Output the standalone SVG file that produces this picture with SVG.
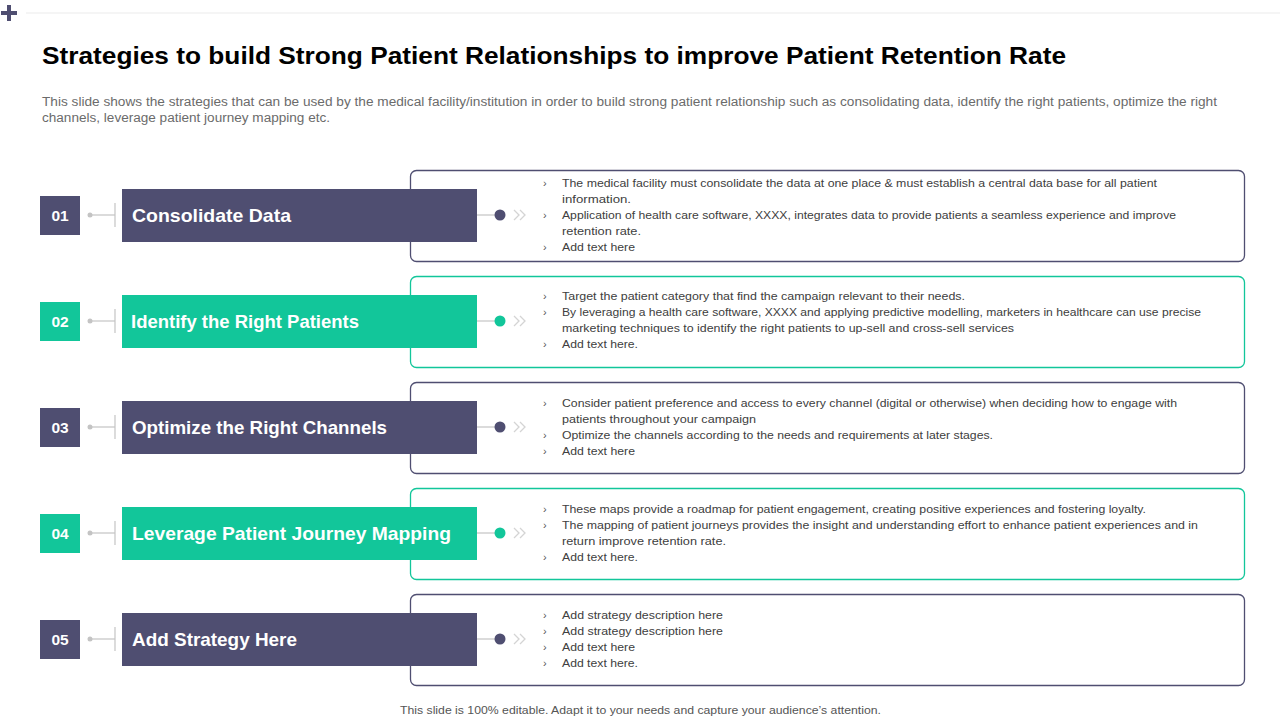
<svg xmlns="http://www.w3.org/2000/svg" width="1280" height="720" viewBox="0 0 1280 720">
<style>
.title{font-family:"Liberation Sans",Arial,sans-serif;font-weight:bold;font-size:24px;fill:#000}
.sub{font-family:"Liberation Sans",Arial,sans-serif;font-size:12.5px;fill:#6b6b6b}
.num{font-family:"Liberation Sans",Arial,sans-serif;font-weight:bold;font-size:15.5px;fill:#fff;text-anchor:middle}
.lbl{font-family:"Liberation Sans",Arial,sans-serif;font-weight:bold;font-size:19px;fill:#fff}
.body{font-family:"Liberation Sans",Arial,sans-serif;font-size:11px;fill:#404040}
.bul{font-family:"Liberation Sans",Arial,sans-serif;font-size:11px;fill:#555}
.foot{font-family:"Liberation Sans",Arial,sans-serif;font-size:11.5px;fill:#555}
.dk{fill:#4f4e71}
.tl{fill:#12c69a}
.boxdk{fill:#fff;stroke:#4f4e71;stroke-width:1.3}
.boxtl{fill:#fff;stroke:#12c69a;stroke-width:1.3}
.gline{stroke:#c4c4c4;stroke-width:1.2;fill:none}
.chev{stroke:#d4d4d4;stroke-width:1.3;fill:none}
</style>
<defs>
<g id="chevs"><polyline class="chev" points="0,-5 5,0 0,5"/><polyline class="chev" points="6,-5 11,0 6,5"/></g>
</defs>

<rect x="1" y="11" width="16" height="4" fill="#4f4e71"/>
<rect x="7" y="5" width="4" height="16" fill="#4f4e71"/>
<line x1="26" y1="13" x2="1280" y2="13" stroke="#ebebeb" stroke-width="1"/>

<text class="title" x="42" y="64" textLength="1024" lengthAdjust="spacingAndGlyphs">Strategies to build Strong Patient Relationships to improve Patient Retention Rate</text>
<text class="sub" x="42" y="106" textLength="1175" lengthAdjust="spacingAndGlyphs">This slide shows the strategies that can be used by the medical facility/institution in order to build strong patient relationship such as consolidating data, identify the right patients, optimize the right</text>
<text class="sub" x="42" y="122" textLength="288" lengthAdjust="spacingAndGlyphs">channels, leverage patient journey mapping etc.</text>

<!-- description boxes -->
<g id="desc1">
<rect class="boxdk" x="410.5" y="170.5" width="834" height="91" rx="6"/>
<text class="bul" x="543" y="187">›</text><text class="body" x="562" y="187" textLength="595" lengthAdjust="spacingAndGlyphs">The medical facility must consolidate the data at one place &amp; must establish a central data base for all patient</text>
<text class="body" x="562" y="203" textLength="69" lengthAdjust="spacingAndGlyphs">information.</text>
<text class="bul" x="543" y="219">›</text><text class="body" x="562" y="219" textLength="614" lengthAdjust="spacingAndGlyphs">Application of health care software, XXXX, integrates data to provide patients a seamless experience and improve</text>
<text class="body" x="562" y="235" textLength="79" lengthAdjust="spacingAndGlyphs">retention rate.</text>
<text class="bul" x="543" y="251">›</text><text class="body" x="562" y="251" textLength="73" lengthAdjust="spacingAndGlyphs">Add text here</text>
</g>
<g id="desc2">
<rect class="boxtl" x="410.5" y="276.5" width="834" height="91" rx="6"/>
<text class="bul" x="543" y="300">›</text><text class="body" x="562" y="300" textLength="403" lengthAdjust="spacingAndGlyphs">Target the patient category that find the campaign relevant to their needs.</text>
<text class="bul" x="543" y="316">›</text><text class="body" x="562" y="316" textLength="639" lengthAdjust="spacingAndGlyphs">By leveraging a health care software, XXXX and applying predictive modelling, marketers in healthcare can use precise</text>
<text class="body" x="562" y="332" textLength="452" lengthAdjust="spacingAndGlyphs">marketing techniques to identify the  right patients to up-sell and cross-sell services</text>
<text class="bul" x="543" y="348">›</text><text class="body" x="562" y="348" textLength="76" lengthAdjust="spacingAndGlyphs">Add text here.</text>
</g>
<g id="desc3">
<rect class="boxdk" x="410.5" y="382.5" width="834" height="91" rx="6"/>
<text class="bul" x="543" y="407">›</text><text class="body" x="562" y="407" textLength="615" lengthAdjust="spacingAndGlyphs">Consider patient preference and access to every channel (digital or otherwise) when deciding how to engage  with</text>
<text class="body" x="562" y="423" textLength="194" lengthAdjust="spacingAndGlyphs">patients throughout your campaign</text>
<text class="bul" x="543" y="439">›</text><text class="body" x="562" y="439" textLength="431" lengthAdjust="spacingAndGlyphs">Optimize the channels according to the needs and requirements at later stages.</text>
<text class="bul" x="543" y="455">›</text><text class="body" x="562" y="455" textLength="73" lengthAdjust="spacingAndGlyphs">Add text here</text>
</g>
<g id="desc4">
<rect class="boxtl" x="410.5" y="488.5" width="834" height="91" rx="6"/>
<text class="bul" x="543" y="513">›</text><text class="body" x="562" y="513" textLength="584" lengthAdjust="spacingAndGlyphs">These maps provide a roadmap for patient engagement,  creating positive experiences and fostering loyalty.</text>
<text class="bul" x="543" y="529">›</text><text class="body" x="562" y="529" textLength="636" lengthAdjust="spacingAndGlyphs">The mapping of patient journeys provides the  insight and understanding effort to enhance patient experiences and in</text>
<text class="body" x="562" y="545" textLength="164" lengthAdjust="spacingAndGlyphs">return improve retention rate.</text>
<text class="bul" x="543" y="561">›</text><text class="body" x="562" y="561" textLength="76" lengthAdjust="spacingAndGlyphs">Add text here.</text>
</g>
<g id="desc5">
<rect class="boxdk" x="410.5" y="594.5" width="834" height="91" rx="6"/>
<text class="bul" x="543" y="619">›</text><text class="body" x="562" y="619" textLength="161" lengthAdjust="spacingAndGlyphs">Add strategy description here</text>
<text class="bul" x="543" y="635">›</text><text class="body" x="562" y="635" textLength="161" lengthAdjust="spacingAndGlyphs">Add strategy description here</text>
<text class="bul" x="543" y="651">›</text><text class="body" x="562" y="651" textLength="73" lengthAdjust="spacingAndGlyphs">Add text here</text>
<text class="bul" x="543" y="667">›</text><text class="body" x="562" y="667" textLength="76" lengthAdjust="spacingAndGlyphs">Add text here.</text>
</g>

<!-- connectors -->
<g id="connectors">
<g transform="translate(0,215)">
<circle cx="90" cy="0" r="2.5" fill="#c4c4c4"/><line class="gline" x1="90" y1="0" x2="115" y2="0"/><line class="gline" x1="115" y1="-12" x2="115" y2="12"/>
<line class="gline" x1="477" y1="0" x2="496" y2="0"/><circle cx="500" cy="0" r="5.5" class="dk"/><use href="#chevs" x="514"/>
</g>
<g transform="translate(0,321)">
<circle cx="90" cy="0" r="2.5" fill="#c4c4c4"/><line class="gline" x1="90" y1="0" x2="115" y2="0"/><line class="gline" x1="115" y1="-12" x2="115" y2="12"/>
<line class="gline" x1="477" y1="0" x2="496" y2="0"/><circle cx="500" cy="0" r="5.5" class="tl"/><use href="#chevs" x="514"/>
</g>
<g transform="translate(0,427)">
<circle cx="90" cy="0" r="2.5" fill="#c4c4c4"/><line class="gline" x1="90" y1="0" x2="115" y2="0"/><line class="gline" x1="115" y1="-12" x2="115" y2="12"/>
<line class="gline" x1="477" y1="0" x2="496" y2="0"/><circle cx="500" cy="0" r="5.5" class="dk"/><use href="#chevs" x="514"/>
</g>
<g transform="translate(0,533)">
<circle cx="90" cy="0" r="2.5" fill="#c4c4c4"/><line class="gline" x1="90" y1="0" x2="115" y2="0"/><line class="gline" x1="115" y1="-12" x2="115" y2="12"/>
<line class="gline" x1="477" y1="0" x2="496" y2="0"/><circle cx="500" cy="0" r="5.5" class="tl"/><use href="#chevs" x="514"/>
</g>
<g transform="translate(0,639)">
<circle cx="90" cy="0" r="2.5" fill="#c4c4c4"/><line class="gline" x1="90" y1="0" x2="115" y2="0"/><line class="gline" x1="115" y1="-12" x2="115" y2="12"/>
<line class="gline" x1="477" y1="0" x2="496" y2="0"/><circle cx="500" cy="0" r="5.5" class="dk"/><use href="#chevs" x="514"/>
</g>
</g>

<!-- numbered steps and labels -->
<g id="step1">
<rect class="dk" x="40" y="196" width="40" height="39"/><text class="num" x="60" y="221">01</text>
<rect class="dk" x="122" y="189" width="355" height="53"/><text class="lbl" x="132" y="222" textLength="159" lengthAdjust="spacingAndGlyphs">Consolidate Data</text>
</g>
<g id="step2">
<rect class="tl" x="40" y="302" width="40" height="39"/><text class="num" x="60" y="327">02</text>
<rect class="tl" x="122" y="295" width="355" height="53"/><text class="lbl" x="131" y="328" textLength="228" lengthAdjust="spacingAndGlyphs">Identify the Right Patients</text>
</g>
<g id="step3">
<rect class="dk" x="40" y="408" width="40" height="39"/><text class="num" x="60" y="433">03</text>
<rect class="dk" x="122" y="401" width="355" height="53"/><text class="lbl" x="132" y="434" textLength="255" lengthAdjust="spacingAndGlyphs">Optimize the Right Channels</text>
</g>
<g id="step4">
<rect class="tl" x="40" y="514" width="40" height="39"/><text class="num" x="60" y="539">04</text>
<rect class="tl" x="122" y="507" width="355" height="53"/><text class="lbl" x="132" y="540" textLength="319" lengthAdjust="spacingAndGlyphs">Leverage Patient Journey Mapping</text>
</g>
<g id="step5">
<rect class="dk" x="40" y="620" width="40" height="39"/><text class="num" x="60" y="645">05</text>
<rect class="dk" x="122" y="613" width="355" height="53"/><text class="lbl" x="132" y="646" textLength="165" lengthAdjust="spacingAndGlyphs">Add Strategy Here</text>
</g>

<text class="foot" x="400" y="714" textLength="481" lengthAdjust="spacingAndGlyphs">This slide is 100% editable. Adapt it to your needs and capture your audience’s attention.</text>
</svg>
